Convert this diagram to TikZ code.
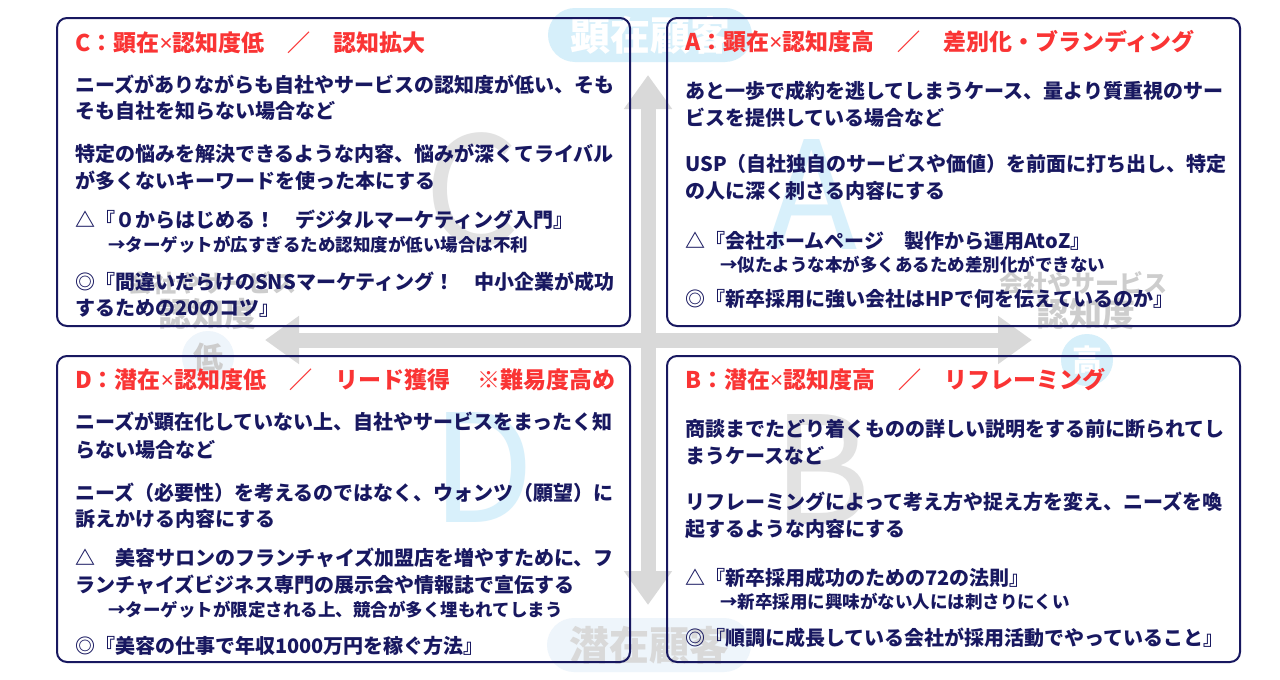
\documentclass[tikz,border=0pt]{standalone}
\usepackage{fontspec}
\setmainfont{Noto Sans CJK JP}
\newfontfamily\latn{Noto Sans}
\newcommand{\tx}{{\latn ×}}
\usetikzlibrary{arrows.meta}
\definecolor{navy}{RGB}{24,24,96}
\definecolor{tred}{RGB}{250,52,52}
\definecolor{lblue}{RGB}{214,239,250}
\definecolor{paleblue}{RGB}{238,245,251}
\definecolor{agray}{RGB}{217,217,217}
\definecolor{lgray}{RGB}{226,226,226}
\definecolor{lblgray}{RGB}{205,205,205}
\definecolor{biglblue}{RGB}{216,240,251}
\begin{document}
\begin{tikzpicture}[x=1pt,y=-1pt,
  box/.style={draw=navy, line width=2pt, rounded corners=10pt},
  ttl/.style={anchor=base west, inner sep=0pt, text=tred, font=\fontsize{23}{26}\selectfont\bfseries},
  body/.style={anchor=base west, inner sep=0pt, text=navy, font=\fontsize{20}{24}\selectfont\bfseries},
  subl/.style={anchor=base west, inner sep=0pt, text=navy, font=\fontsize{17.5}{21}\selectfont\bfseries},
  bigl/.style={inner sep=0pt, font=\fontsize{150}{150}\selectfont},
  axis/.style={draw=agray, line width=15pt, {Triangle[length=34pt,width=46pt]}-{Triangle[length=34pt,width=46pt]}},
  pill/.style={rounded corners=27pt, minimum width=204pt, minimum height=54pt, inner sep=0pt, font=\fontsize{40}{44}\selectfont\bfseries},
  side/.style={inner sep=0pt, text=lblgray, font=\bfseries},
  dot/.style={circle, minimum size=52pt, inner sep=0pt, font=\fontsize{30}{32}\selectfont\bfseries},
]
\useasboundingbox (0,0) rectangle (1280,680);
\fill[white] (0,0) rectangle (1280,680);

% big background letters
\node[bigl, text=lgray] (bigC) at (472,190) {C};
\node[bigl, text=biglblue] (bigA) at (812,195) {A};
\node[bigl, text=biglblue] (bigD) at (483,468) {D};
\node[bigl, text=lgray] (bigB) at (822,470) {B};

% pills
\node[pill, fill=lblue, text=white] (top) at (650,35) {顕在顧客};
\node[pill, fill=paleblue, text=agray] (bottom) at (649,645) {潜在顧客};

% side labels
\node[side, font=\fontsize{24}{26}\selectfont\bfseries] (lco) at (212,283) {会社やサービス};
\node[side, font=\fontsize{33}{36}\selectfont\bfseries] (lnd) at (208,314) {認知度};
\node[dot, fill=paleblue, text=lblgray] (low) at (208,357) {低};
\node[side, font=\fontsize{24}{26}\selectfont\bfseries] (rco) at (1083,283) {会社やサービス};
\node[side, font=\fontsize{33}{36}\selectfont\bfseries] (rnd) at (1086,314) {認知度};
\node[dot, fill=lblue, text=white] (high) at (1087,360) {高};

% axes
\coordinate (L) at (265,340);
\coordinate (R) at (1032,340);
\coordinate (T) at (648,75);
\coordinate (Bm) at (648,605);
\draw[axis] (L) -- (R);
\draw[axis] (T) -- (Bm);

% boxes
\draw[box] (57,18) rectangle (630,326);
\draw[box] (667,18) rectangle (1240,326);
\draw[box] (57,356) rectangle (630,662);
\draw[box] (667,356) rectangle (1240,662);

% C box
\node[ttl] (c0) at (75,51) {C：顕在\tx 認知度低　／　認知拡大};
\node[body] (c1) at (75,92) {ニーズがありながらも自社やサービスの認知度が低い、そも};
\node[body] (c2) at (75,118) {そも自社を知らない場合など};
\node[body] (c3) at (75,161) {特定の悩みを解決できるような内容、悩みが深くてライバル};
\node[body] (c4) at (75,188) {が多くないキーワードを使った本にする};
\node[body] (c5) at (75,227) {△『０からはじめる！　デジタルマーケティング入門』};
\node[subl] (c6) at (108,251) {→ターゲットが広すぎるため認知度が低い場合は不利};
\node[body] (c7) at (75,289) {◎『間違いだらけのSNSマーケティング！　中小企業が成功};
\node[body] (c8) at (75,315) {するための20のコツ』};

% A box
\node[ttl] (a0) at (685,50) {A：顕在\tx 認知度高　／　差別化・ブランディング};
\node[body] (a1) at (685,98) {あと一歩で成約を逃してしまうケース、量より質重視のサー};
\node[body] (a2) at (685,125) {ビスを提供している場合など};
\node[body] (a3) at (685,171) {USP（自社独自のサービスや価値）を前面に打ち出し、特定};
\node[body] (a4) at (685,198) {の人に深く刺さる内容にする};
\node[body] (a5) at (685,248) {△『会社ホームページ　製作から運用AtoZ』};
\node[subl] (a6) at (720,271) {→似たような本が多くあるため差別化ができない};
\node[body] (a7) at (685,306) {◎『新卒採用に強い会社はHPで何を伝えているのか』};

% D box
\node[ttl] (d0) at (75,388) {D：潜在\tx 認知度低　／　リード獲得\hspace{1.2em}※難易度高め};
\node[body] (d1) at (75,429) {ニーズが顕在化していない上、自社やサービスをまったく知};
\node[body] (d2) at (75,457) {らない場合など};
\node[body] (d3) at (75,500) {ニーズ（必要性）を考えるのではなく、ウォンツ（願望）に};
\node[body] (d4) at (75,526) {訴えかける内容にする};
\node[body] (d5) at (75,565) {△　美容サロンのフランチャイズ加盟店を増やすために、フ};
\node[body] (d6) at (75,592) {ランチャイズビジネス専門の展示会や情報誌で宣伝する};
\node[subl] (d7) at (108,616) {→ターゲットが限定される上、競合が多く埋もれてしまう};
\node[body] (d8) at (75,653) {◎『美容の仕事で年収1000万円を稼ぐ方法』};

% B box
\node[ttl] (b0) at (685,388) {B：潜在\tx 認知度高　／　リフレーミング};
\node[body] (b1) at (685,436) {商談までたどり着くものの詳しい説明をする前に断られてし};
\node[body] (b2) at (685,463) {まうケースなど};
\node[body] (b3) at (685,509) {リフレーミングによって考え方や捉え方を変え、ニーズを喚};
\node[body] (b4) at (685,536) {起するような内容にする};
\node[body] (b5) at (685,585) {△『新卒採用成功のための72の法則』};
\node[subl] (b6) at (720,608) {→新卒採用に興味がない人には刺さりにくい};
\node[body] (b7) at (685,645) {◎『順調に成長している会社が採用活動でやっていること』};
\end{tikzpicture}
\end{document}
